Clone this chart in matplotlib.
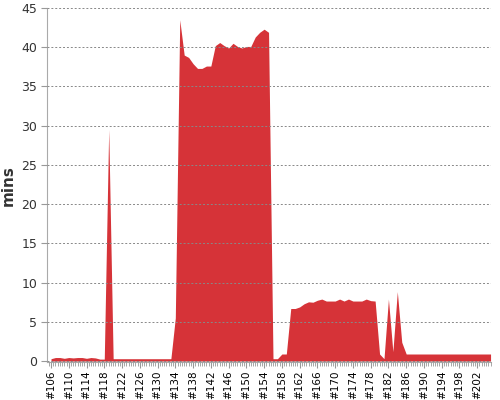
import matplotlib
matplotlib.use('Agg')
import matplotlib.pyplot as plt
import numpy as np

# build numbers and build duration in minutes
builds = list(range(106, 206))
durations = [
    0.3, 0.45, 0.45, 0.35, 0.45, 0.4, 0.45, 0.45, 0.35, 0.45,   # 106-115
    0.4, 0.25, 0.25, 29.5, 0.3, 0.3, 0.3, 0.3, 0.3, 0.3,        # 116-125
    0.3, 0.3, 0.3, 0.3, 0.3, 0.3, 0.3, 0.3, 5.5, 43.5,          # 126-135
    39.0, 38.7, 37.9, 37.3, 37.3, 37.6, 37.6, 40.2, 40.6, 40.2, # 136-145
    39.9, 40.5, 40.1, 39.9, 40.1, 40.1, 41.3, 41.9, 42.3, 41.9, # 146-155
    0.3, 0.3, 0.9, 0.9, 6.7, 6.7, 6.9, 7.3, 7.55, 7.5,          # 156-165
    7.75, 7.9, 7.65, 7.65, 7.65, 7.9, 7.65, 7.9, 7.65, 7.65,    # 166-175
    7.65, 7.9, 7.7, 7.65, 0.9, 0.3, 7.9, 1.2, 8.85, 2.4,        # 176-185
    0.9, 0.9, 0.9, 0.9, 0.9, 0.9, 0.9, 0.9, 0.9, 0.9,           # 186-195
    0.9, 0.9, 0.9, 0.9, 0.9, 0.9, 0.9, 0.9, 0.9, 0.9,           # 196-205
]
tick_builds = list(range(106, 203, 4))
tick_labels = ['#%d' % b for b in tick_builds]
y_ticks = [0, 5, 10, 15, 20, 25, 30, 35, 40, 45]

fig = plt.figure(figsize=(5, 4), dpi=100)
ax = fig.add_axes([0.094, 0.094, 0.888, 0.886])

ax.fill_between(builds, durations, 0, color='#d63338', linewidth=0)

ax.set_xlim(105.1, 205.1)
ax.set_ylim(-0.17, 45)
ax.set_yticks(y_ticks)
ax.set_yticklabels([str(v) for v in y_ticks], fontsize=9, color='#333333')
ax.set_xticks(tick_builds)
ax.set_xticklabels(tick_labels, rotation=90, fontsize=7.5)
ax.set_xticks(np.arange(105.5, 205.1, 0.5), minor=True)
ax.tick_params(axis='x', which='major', length=4, color='#999999', pad=2)
ax.tick_params(axis='x', which='minor', length=3, color='#999999')
ax.tick_params(axis='y', length=4, color='#999999', pad=3)

ax.grid(axis='y', linestyle=(0, (2, 2)), color='#888888', linewidth=0.7)
ax.set_axisbelow(False)
for side in ['top', 'right']:
    ax.spines[side].set_visible(False)
for side in ['left', 'bottom']:
    ax.spines[side].set_color('#aaaaaa')

ax.set_ylabel('mins', fontsize=11, fontweight='bold', color='#333333')
ax.yaxis.set_label_coords(-0.07, 0.5)

fig.savefig('out.png', dpi=100)
